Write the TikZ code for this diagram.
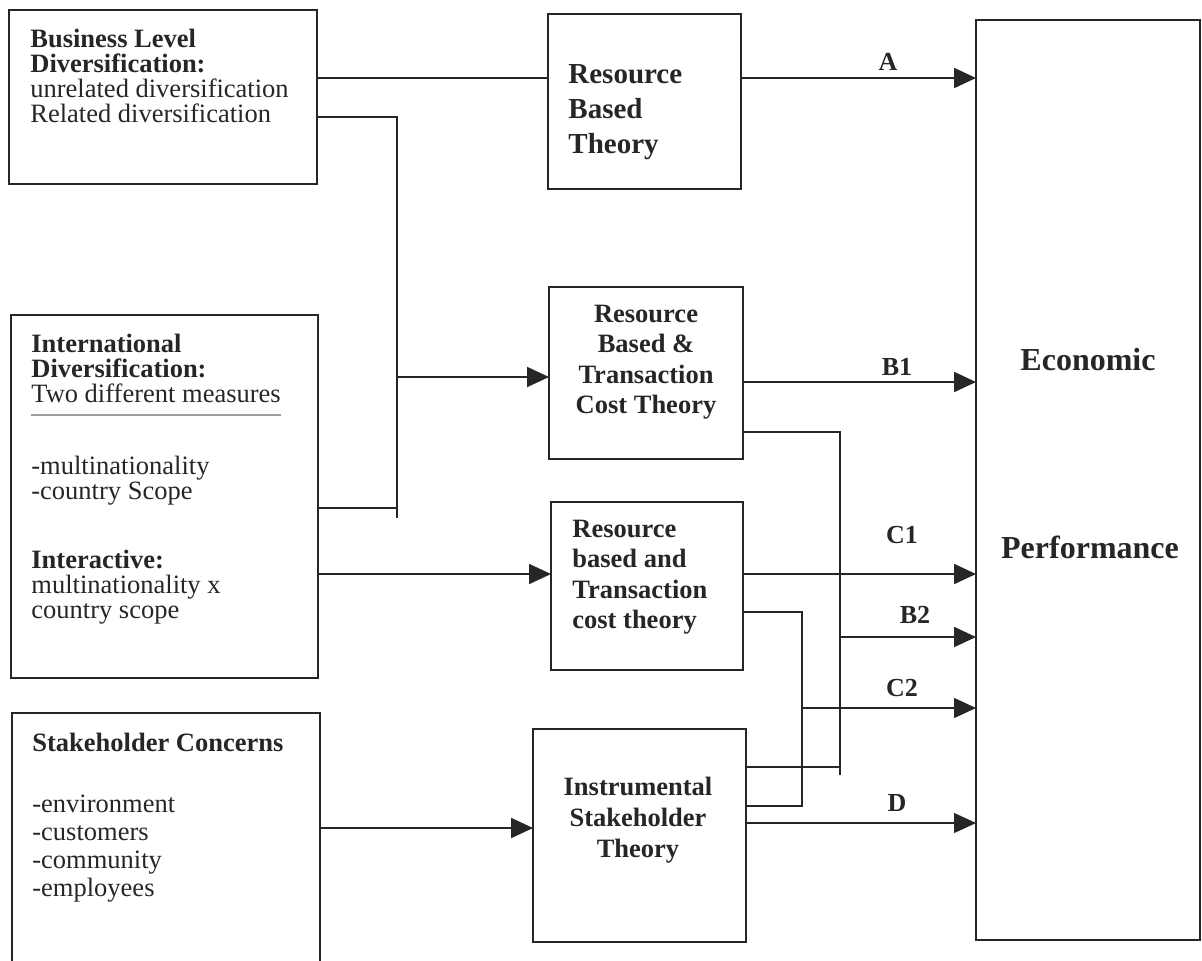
\documentclass[tikz,border=0pt]{standalone}
\usepackage{fontspec}
\setmainfont{Liberation Serif}
\usetikzlibrary{arrows.meta}
\definecolor{ink}{HTML}{262626}
% underline set well below the baseline, in a lighter grey, without adding depth
\newcommand\lowrule[1]{\setbox0\hbox{#1}\rlap{\smash{\textcolor{gray!75}{\rule[-7pt]{\wd0}{0.9pt}}}}\box0}
\begin{document}
\begin{tikzpicture}[x=0.5pt,y=-0.5pt,
  frame/.style={draw=ink, line width=1pt, inner sep=0pt, outer sep=0pt},
  wire/.style={draw=ink, line width=1pt},
  thinwire/.style={draw=ink, line width=0.6pt},
  feed/.style={-{Triangle[length=11pt,width=10pt]}},
  fixedlines/.style={execute at begin node={\lineskiplimit=-20pt\lineskip=0pt}},
  leftbody/.style={anchor=base west, align=left, inner sep=0pt, text=ink, fixedlines,
                   font=\fontsize{13.25}{12.5}\selectfont},
  theorytext/.style={anchor=base, inner sep=0pt, text=ink, fixedlines,
                   font=\bfseries\fontsize{13.25}{15.25}\selectfont},
  pathtag/.style={inner sep=0pt, text=ink, font=\bfseries\fontsize{13}{13}\selectfont},
  bigword/.style={inner sep=0pt, text=ink, font=\bfseries\fontsize{16}{16}\selectfont}]
\useasboundingbox (0,0) rectangle (1202,960);
\clip (0,0) rectangle (1202,960);

% ---- boxes ----
\node[frame, minimum width=154pt,   minimum height=87pt]    (bl)    at (163,97)      {};
\node[frame, minimum width=153.5pt, minimum height=181.5pt] (intl)  at (164.5,496.5) {};
\node[frame, minimum width=154pt,   minimum height=131pt]   (sh)    at (166,844)     {};
\node[frame, minimum width=96.5pt,  minimum height=87.5pt]  (rbt)   at (644.5,101.5) {};
\node[frame, minimum width=97pt,    minimum height=86pt]    (rbtc)  at (646,373)     {};
\node[frame, minimum width=96pt,    minimum height=84pt]    (rbtc2) at (647,586)     {};
\node[frame, minimum width=106.5pt, minimum height=106.5pt] (inst)  at (639.5,835.5) {};
\node[frame, minimum width=112pt,   minimum height=460pt]   (econ)  at (1088,480)    {};

% ---- texts of the source boxes (placed by the baseline of their last line) ----
\node[leftbody] (blt) at (30,122)
  {\textbf{Business Level}\\\textbf{Diversification:}\\unrelated diversification\\Related diversification};
\node[leftbody] (intlt) at (31,618)
  {\textbf{International}\\\textbf{Diversification:}\\\lowrule{Two different measures}\\[23.5pt]%
   -multinationality\\-country Scope\\[22pt]%
   \textbf{Interactive:}\\multinationality x\\country scope};
\node[leftbody, font=\fontsize{13.25}{14}\selectfont] (sht) at (32,896)
  {\textbf{Stakeholder Concerns}\\[16.5pt]-environment\\-customers\\-community\\-employees};

% ---- texts of the theory boxes ----
\node[theorytext, anchor=base west, align=left, font=\bfseries\fontsize{14.5}{17.5}\selectfont] (rbtt) at (568,153)
  {Resource\\Based\\Theory};
\node[theorytext, align=center] (rbtct) at (646,413.5)
  {Resource\\Based \&\\Transaction\\Cost Theory};
\node[theorytext, anchor=base west, align=left] (rbtc2t) at (572,628.5)
  {Resource\\based and\\Transaction\\cost theory};
\node[theorytext, align=center, font=\bfseries\fontsize{13.25}{15.5}\selectfont] (instt) at (638,857)
  {Instrumental\\Stakeholder\\Theory};

\node[bigword] (eco)  at (1088,360) {Economic};
\node[bigword] (perf) at (1090,547) {Performance};

% ---- junction points ----
\coordinate (busA)  at (397,117);
\coordinate (busB)  at (397,508);
\coordinate (busC)  at (397,518);
\coordinate (busO)  at (397,377);
\coordinate (jaTop) at (840,432);
\coordinate (jaIn)  at (840,767);
\coordinate (jaEnd) at (840,775);
\coordinate (jaOut) at (840,637);
\coordinate (jbTop) at (802,612);
\coordinate (jbBot) at (802,806);
\coordinate (jbOut) at (802,708);
\coordinate (rowA)  at (0,78);
\coordinate (rowB1) at (0,382);
\coordinate (rowC1) at (0,574);
\coordinate (rowD)  at (0,823);
\coordinate (rowS)  at (0,828);
\coordinate (thinC) at (860,708);
\coordinate (thinD) at (860,823);

% ---- connectors on the left ----
\draw[wire] (bl.east |- rowA) -- (rbt.west |- rowA);
\draw[wire] (bl.east |- busA) -- (busA) -- (busC);
\draw[wire] (intl.east |- busB) -- (busB);
\draw[wire, feed] (busO) -- (rbtc.west |- busO);
\draw[wire, feed] (intl.east |- rowC1) -- (rbtc2.west |- rowC1);
\draw[wire, feed] (sh.east |- rowS) -- (inst.west |- rowS);

% ---- connectors on the right ----
\draw[wire, feed] (rbt.east |- rowA) -- (econ.west |- rowA);
\draw[wire, feed] (rbtc.east |- rowB1) -- (econ.west |- rowB1);
\draw[wire, feed] (rbtc2.east |- rowC1) -- (econ.west |- rowC1);
\draw[wire] (rbtc.east |- jaTop) -- (jaTop) -- (jaEnd);
\draw[wire] (inst.east |- jaIn) -- (jaIn);
\draw[wire, feed] (jaOut) -- (econ.west |- jaOut);
\draw[wire] (rbtc2.east |- jbTop) -- (jbTop) -- (jbBot) -- (inst.east |- jbBot);
\draw[thinwire, feed] (jbOut) -- (econ.west |- jbOut);
\draw[wire] (jbOut) -- (thinC);
\draw[thinwire, feed] (inst.east |- rowD) -- (econ.west |- rowD);
\draw[wire] (inst.east |- rowD) -- (thinD);

% ---- path labels ----
\node[pathtag] (tA)  at (888,62)  {A};
\node[pathtag] (tB1) at (897,367) {B1};
\node[pathtag] (tC1) at (902,535) {C1};
\node[pathtag] (tB2) at (915,615) {B2};
\node[pathtag] (tC2) at (902,688) {C2};
\node[pathtag] (tD)  at (897,803) {D};
\end{tikzpicture}
\end{document}
